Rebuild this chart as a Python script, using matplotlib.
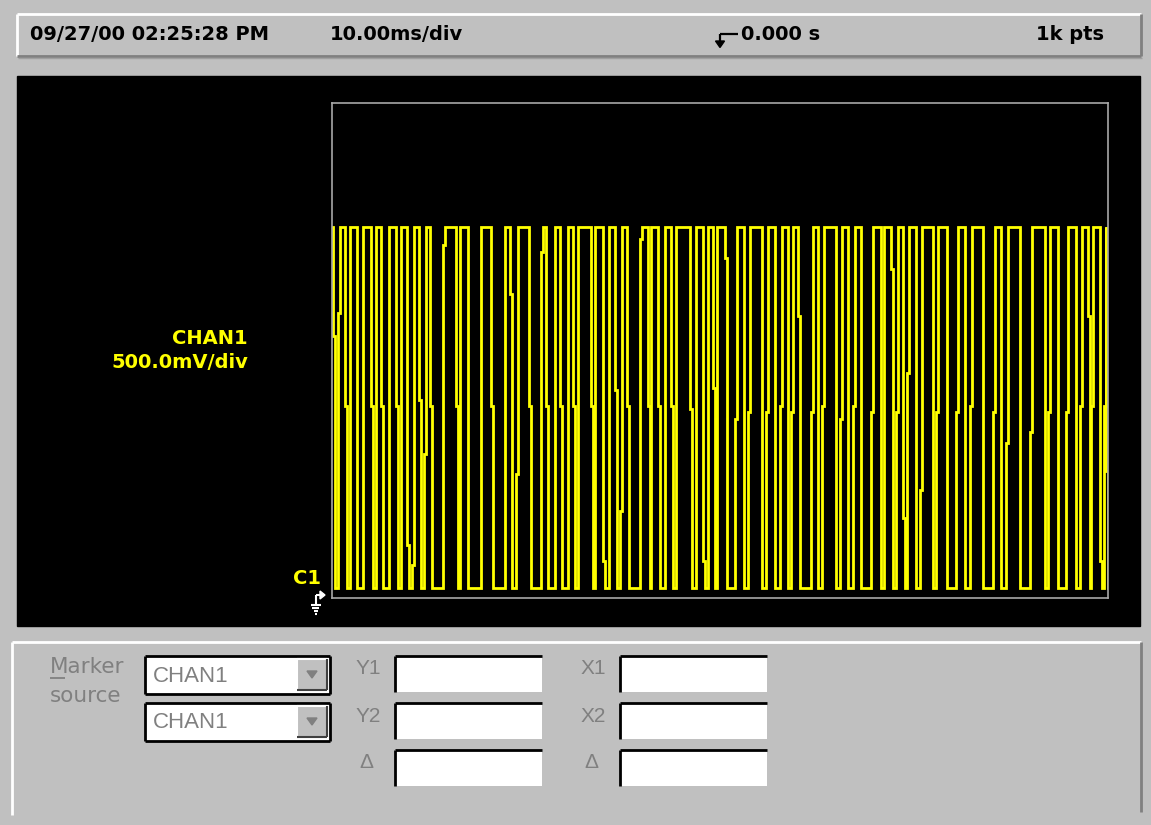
import numpy as np
import matplotlib
matplotlib.use("Agg")
import matplotlib.pyplot as plt
from matplotlib.patches import Rectangle, Polygon

nan = float("nan")
# rising / falling edge times of each pulse, in ms (10 ms/div, 10 div)
rise_ms = [0.0, 0.77, 2.28, 3.99, 5.63, 7.35, 8.93, 10.35, 11.82, 14.30,
           16.49, 19.24, 22.26, 23.75, 26.89, 28.70, 30.41, 31.70, 33.93, 35.66,
           37.07, 39.65, 41.15, 42.87, 44.37, 46.95, 48.45, 49.65, 51.89, 53.61,
           55.97, 57.69, 59.19, 61.69, 63.14, 65.43, 67.14, 69.42, 71.13, 72.72,
           74.14, 75.73, 77.87, 80.45, 82.18, 85.18, 86.89, 89.91, 92.27, 94.63,
           96.35, 97.85, 99.48]
fall_ms = [0.09, 1.64, 3.26, 4.99, 6.35, 8.21, 9.66, 11.17, 12.59, 16.02,
           17.53, 20.53, 22.90, 25.35, 27.62, 29.34, 31.06, 33.34, 34.92, 36.43,
           38.05, 40.72, 42.01, 43.72, 46.10, 47.81, 49.10, 50.68, 53.09, 55.41,
           57.05, 58.76, 60.05, 62.63, 64.99, 66.53, 68.21, 70.79, 72.07, 73.58,
           75.30, 77.45, 79.29, 81.53, 83.89, 86.25, 88.62, 91.84, 93.56, 95.91,
           97.42, 98.93, 99.78]
# intermediate sample level caught on each edge (V), nan = clean edge
rise_mid_v = [nan, 2.30, nan, nan, nan, nan, nan, 0.27, 1.16, 2.85,
              nan, nan, nan, 1.00, 2.80, nan, nan, nan, nan, nan,
              0.70, 2.90, nan, nan, nan, nan, nan, nan, 1.45, 1.50,
              1.50, 1.55, 1.50, 1.50, 1.55, 1.45, 1.55, 1.50, nan, 1.50,
              1.82, 0.87, 1.50, 1.50, 1.55, 1.50, 1.25, 1.34, 1.50, 1.50,
              1.55, 1.55, 1.55]
fall_mid_v = [2.12, 1.55, nan, 1.55, 1.55, 1.55, 0.43, 1.60, 1.55, 1.55,
              nan, 1.55, 2.46, 1.55, 1.55, 1.55, 1.55, 1.55, 0.30, 1.68,
              1.55, 1.55, 1.55, 1.55, 1.53, 0.30, 1.70, 2.75, nan, nan,
              nan, nan, 2.28, nan, nan, nan, nan, nan, 2.66, 0.65,
              nan, nan, nan, nan, nan, nan, nan, nan, nan, nan,
              2.28, 0.30, 1.03]
high_v = 3.00
low_v = 0.08

header_texts = ["09/27/00 02:25:28 PM", "10.00ms/div", "0.000 s", "1k pts"]
chan_name = "CHAN1"
chan_scale = "500.0mV/div"
marker_sources = ["CHAN1", "CHAN1"]
y_labels = ["Y1", "Y2", "\u0394"]
x_labels = ["X1", "X2", "\u0394"]

# ---------------- figure ----------------
W, H = 1151, 825
fig = plt.figure(figsize=(W / 100, H / 100), dpi=100)
fig.patch.set_facecolor("#C0C0C0")
FONT = "Liberation Sans"
WIDE = "DejaVu Sans"

bg = fig.add_axes([0, 0, 1, 1])
bg.set_xlim(0, W)
bg.set_ylim(H, 0)
bg.axis("off")
bg.set_zorder(0)

GRAY_TXT = "#808080"
DARK = "#808080"


def line(x0, y0, x1, y1, color, lw=1.5, z=2):
    bg.plot([x0, x1], [y0, y1], color=color, lw=lw, solid_capstyle="butt", zorder=z)


# header bar (raised)
line(17, 14, 1141, 14, "white", 2)
line(17, 14, 17, 56, "white", 2)
line(17, 56, 1141, 56, DARK, 2)
line(1141, 14, 1141, 56, DARK, 2)
line(18, 58, 1142, 58, "#A0A0A0", 1)
hdr_kw = dict(fontsize=14, fontweight="bold", family=WIDE, color="black", va="center")
bg.text(30, 35, header_texts[0], ha="left", **hdr_kw)
bg.text(330, 35, header_texts[1], ha="left", **hdr_kw)
bg.text(741, 35, header_texts[2], ha="left", **hdr_kw)
bg.text(1104, 35, header_texts[3], ha="right", **hdr_kw)
# trigger symbol
line(720, 34, 738, 34, "black", 1.6)
line(720, 34, 720, 42, "black", 1.6)
bg.add_patch(Polygon([[715.5, 41], [724.5, 41], [720, 47.5]], closed=True,
                     color="black", zorder=3))

# black scope panel
bg.add_patch(Rectangle((17, 76), 1123, 550, color="black", zorder=1))
ch_kw = dict(fontsize=14, fontweight="bold", family=WIDE, color="#FFFF00", ha="right", va="center")
bg.text(248, 338, chan_name, **ch_kw)
bg.text(248, 362, chan_scale, **ch_kw)
bg.text(321, 578, "C1", **ch_kw)
# ground / channel marker
line(316, 604, 316, 595, "white", 1.5, 3)
line(316, 595, 321, 595, "white", 1.5, 3)
bg.add_patch(Polygon([[320, 591], [320, 599], [325, 595]], closed=True, color="white", zorder=3))
line(311, 605, 321, 605, "white", 1.5, 3)
line(312.5, 608, 319.5, 608, "white", 1.5, 3)
line(314, 611, 318, 611, "white", 1.5, 3)
line(315.3, 614, 316.7, 614, "white", 1.5, 3)

# bottom panel
line(12, 642, 1141, 642, "white", 2)
line(12, 642, 12, 815, "white", 2)
line(1141, 642, 1141, 812, DARK, 2)

ui_kw = dict(family=FONT, color=GRAY_TXT, va="center")
bg.text(50, 667, "Marker", fontsize=15.5, ha="left", family=WIDE, color=GRAY_TXT, va="center")
line(50, 677.5, 65, 677.5, GRAY_TXT, 1.3)
bg.text(50, 696, "source", fontsize=15.5, ha="left", family=WIDE, color=GRAY_TXT, va="center")


def combo(y0, label):
    bg.add_patch(Rectangle((145, y0), 185, 38, facecolor="white", edgecolor="none", zorder=2))
    line(145, y0, 330, y0, "black", 2)
    line(145, y0, 145, y0 + 38, "black", 2)
    line(145, y0 + 38, 330, y0 + 38, "black", 2)
    line(330, y0, 330, y0 + 38, "black", 2)
    bg.add_patch(Rectangle((297, y0 + 3), 30, 31, facecolor="#C0C0C0", edgecolor="none", zorder=3))
    line(297, y0 + 3, 327, y0 + 3, "white", 1.5, 4)
    line(297, y0 + 3, 297, y0 + 34, "white", 1.5, 4)
    line(297, y0 + 34, 327, y0 + 34, "#404040", 1.5, 4)
    line(327, y0 + 3, 327, y0 + 34, "#404040", 1.5, 4)
    bg.add_patch(Polygon([[307, y0 + 15], [317, y0 + 15], [312, y0 + 22]], closed=True,
                         color=GRAY_TXT, zorder=5))
    bg.text(153, y0 + 20, label, fontsize=16, ha="left", **ui_kw)


combo(656, marker_sources[0])
combo(703, marker_sources[1])


def field(x0, y0):
    bg.add_patch(Rectangle((x0, y0), 147, 36, facecolor="white", edgecolor="none", zorder=2))
    line(x0, y0, x0 + 147, y0, "black", 2)
    line(x0, y0, x0, y0 + 36, "black", 2)


rows = [656, 703, 750]
for i, y0 in enumerate(rows):
    field(395, y0)
    field(620, y0)
    bg.text(381 if i < 2 else 373, y0 + 13, y_labels[i], fontsize=15, ha="right", **ui_kw)
    bg.text(606 if i < 2 else 598, y0 + 13, x_labels[i], fontsize=15, ha="right", **ui_kw)

# ---------------- scope trace ----------------
ax = fig.add_axes([332 / W, 1 - 598 / H, 776 / W, 495 / H])
ax.set_zorder(1)
ax.set_facecolor("none")
ax.set_xlim(0, 100)
ax.set_ylim(0, 4)
ax.set_xticks([])
ax.set_yticks([])
for s in ax.spines.values():
    s.set_color("#A8A8A8")
    s.set_linewidth(1.2)

d = 0.25  # duration of an intermediate sample step (ms)
xs, ys = [], []
for i, (r, f) in enumerate(zip(rise_ms, fall_ms)):
    rm, fm = rise_mid_v[i], fall_mid_v[i]
    if i == 0 and r == 0.0:
        xs.append(0.0); ys.append(high_v)
    else:
        xs.append(r); ys.append(low_v)
        if not np.isnan(rm):
            xs += [r, r + d, r + d]; ys += [rm, rm, high_v]
        else:
            xs.append(r); ys.append(high_v)
    xs.append(f); ys.append(high_v)
    if not np.isnan(fm):
        xs += [f, f + d, f + d]; ys += [fm, fm, low_v]
    else:
        xs.append(f); ys.append(low_v)

ax.plot(xs, ys, color="#FFFF00", lw=2.0, solid_joinstyle="miter")

fig.savefig("out.png", dpi=100, facecolor=fig.get_facecolor())
